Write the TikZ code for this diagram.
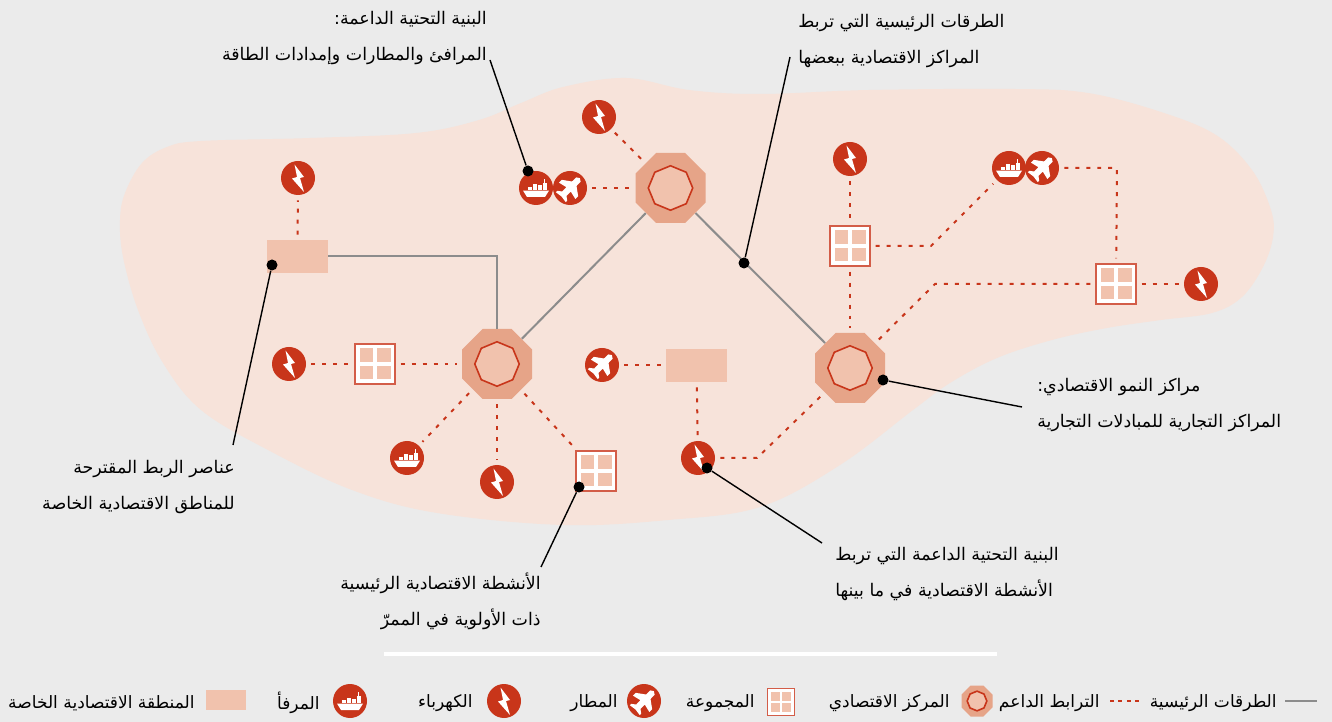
\documentclass[tikz,border=0pt]{standalone}
\usepackage{fontspec}
\usetikzlibrary{calc}
\usetikzlibrary{positioning}
\usetikzlibrary{shapes.geometric}
\newfontfamily\arabicfont[Script=Arabic]{DejaVu Sans}
\TeXXeTstate=1
\newcommand{\ar}[1]{\beginR #1\endR}
\definecolor{C0}{HTML}{EBEBEB}
\definecolor{C1}{HTML}{F7E3DA}
\definecolor{C2}{HTML}{E6A488}
\definecolor{C3}{HTML}{F1C2AD}
\definecolor{C4}{HTML}{C8351A}
\definecolor{C5}{HTML}{8C8C8C}
\def \unit {0.02cm}
\tikzset{
  labeltext/.style={inner sep=0pt,font=\arabicfont\fontsize{9.9}{20.4}\selectfont},
  calltext/.style={labeltext,align=#1},
  legendtext/.style={inner sep=0pt,anchor=east,font=\arabicfont\fontsize{9.7}{12}\selectfont},
  road/.style={C5,line width=2*\unit},
  link/.style={C4,line width=2*\unit,dash pattern=on 2.27pt off 3.97pt,shorten >=5*\unit,shorten <=5*\unit},
  leader/.style={black,line width=1.4*\unit},
  calldot/.style={circle,fill=black,inner sep=0pt,minimum size=11*\unit},
  hub/.style={regular polygon,regular polygon sides=8,fill=C2,inner sep=0pt,minimum size=#1*2.165*\unit},
  hubcore/.style={regular polygon,regular polygon sides=8,shape border rotate=22.5,fill=C3,draw=C4,line width=1.6*\unit,inner sep=0pt,minimum size=#1*1.27*\unit},
  sez/.style={rectangle,fill=C3,inner sep=0pt,minimum width=61*\unit,minimum height=33*\unit},
  cluster/.style={rectangle,fill=white,draw=C4!80,line width=1.3*\unit,inner sep=0pt,minimum size=#1*\unit,
    path picture={
      \begin{scope}[shift={(path picture bounding box.center)},x=#1/40*\unit,y=#1/40*\unit]
        \fill[C3] (-15.5,-15.5) rectangle (-1.7,-1.7);
        \fill[C3] (1.7,-15.5) rectangle (15.5,-1.7);
        \fill[C3] (-15.5,1.7) rectangle (-1.7,15.5);
        \fill[C3] (1.7,1.7) rectangle (15.5,15.5);
      \end{scope}}},
  bolt/.style={circle,fill=C4,inner sep=0pt,minimum size=34*\unit,
    path picture={
      \fill[white,shift={(path picture bounding box.center)}]
        (-3.5,-13.5)--(6,-1)--(2,0)--(6,14)--(-6,0.5)--(-1,-1)--cycle;}},
  plane/.style={circle,fill=C4,inner sep=0pt,minimum size=34*\unit,
    path picture={
      \fill[white,shift={(path picture bounding box.center)},x={(0.01414cm,0.01414cm)},y={(-0.01414cm,0.01414cm)}]
        (14,0)--(12,3)--(6,3.2)--(0,11.5)--(-4,11.5)--(-2,3.2)--(-8,3)--(-11,7)--(-13,7)--(-12,0)
        --(-13,-7)--(-11,-7)--(-8,-3)--(-2,-3.2)--(-4,-11.5)--(0,-11.5)--(6,-3.2)--(12,-3)--cycle;}},
  ship/.style={circle,fill=C4,inner sep=0pt,minimum size=34*\unit,
    path picture={
      \begin{scope}[shift={(path picture bounding box.center)}]
        \fill[white] (-13,2.6)--(13,2.6)--(9,9)--(-9,9)--cycle;
        \fill[white] (-8.5,-1) rectangle (-4.5,1.8);
        \fill[white] (-3.5,-3.5) rectangle (0.5,1.8);
        \fill[white] (1.5,-2.5) rectangle (5.5,1.8);
        \fill[white] (6.5,-5) rectangle (10.5,1.8);
        \fill[white] (8,-9) rectangle (9,-5);
      \end{scope}}}
}
\begin{document}
\begin{tikzpicture}[x=\unit,y=-\unit]
\fill[C0] (0,0) rectangle (1332,722);
\useasboundingbox (0,0) rectangle (1332,722);
\fill[C1] plot[smooth cycle,tension=0.6] coordinates {
  (120,220) (125,193) (142,163) (167,147) (201,141) (310,138) (416,133) (479,120) (521,103) (563,87)
  (626,78) (689,90) (760,94) (869,90) (1015,89) (1088,93) (1161,112) (1216,135) (1252,170) (1271,210)
  (1273,237) (1263,267) (1242,297) (1212,313) (1161,320) (1107,328) (1052,340) (997,358) (950,383) (913,410)
  (840,465) (760,507) (668,520) (563,525) (437,513) (352,490) (268,450) (201,410) (163,363) (138,310) (123,257)};

\node[hub=35] (hubTop) at (670.5,188) {};
\node[hub=35] (hubLeft) at (497,364) {};
\node[hub=35] (hubRight) at (850,368) {};
\node[hubcore=35] (coreTop) at (hubTop) {};
\node[hubcore=35] (coreLeft) at (hubLeft) {};
\node[hubcore=35] (coreRight) at (hubRight) {};

\node[sez] (sezLeft) at (297.5,256.5) {};
\node[sez] (sezMid) at (696.5,365.5) {};

\node[cluster=40] (clusterA) at (850,246) {};
\node[cluster=40] (clusterB) at (1116,284) {};
\node[cluster=40] (clusterC) at (375,364) {};
\node[cluster=40] (clusterD) at (596,471) {};

\node[bolt] (boltA) at (599,117) {};
\node[bolt] (boltB) at (850,159) {};
\node[bolt] (boltC) at (298,178) {};
\node[bolt] (boltD) at (1201,284) {};
\node[bolt] (boltE) at (289,364) {};
\node[bolt] (boltF) at (497,482) {};
\node[bolt] (boltG) at (698,458) {};
\node[ship] (shipA) at (536,188) {};
\node[ship] (shipB) at (1009,168) {};
\node[ship] (shipC) at (407,458) {};
\node[plane] (planeA) at (570,188) {};
\node[plane] (planeB) at (1042,168) {};
\node[plane] (planeC) at (602,365) {};

\draw[road] (sezLeft.east) -| (hubLeft.north);
\draw[road] (hubLeft) -- (hubTop);
\draw[road] (hubTop) -- (hubRight);

\coordinate (bendA) at (931,246);
\coordinate (bendB) at (1117,168);
\coordinate (bendC) at (935,284);
\coordinate (bendD) at (757,458);
\coordinate (stubMid) at (sezMid.west |- planeC);
\draw[link] (boltA) -- (hubTop);
\draw[link] (planeA) -- (hubTop);
\draw[link] (boltB) -- (clusterA);
\draw[link] (clusterA) -- (hubRight);
\draw[link] (clusterA) -- (bendA) -- (shipB);
\draw[link] (planeB) -- (bendB) -- (clusterB);
\draw[link] (clusterB) -- (boltD);
\draw[link] (clusterB) -- (bendC) -- (hubRight);
\draw[link] (sezLeft) -- (boltC);
\draw[link] (boltE) -- (clusterC);
\draw[link] (clusterC) -- (hubLeft);
\draw[link] (hubLeft) -- (shipC);
\draw[link] (hubLeft) -- (boltF);
\draw[link] (hubLeft) -- (clusterD);
\draw[link] (planeC) -- (stubMid);
\draw[link] (sezMid) -- (boltG);
\draw[link] (boltG) -- (bendD) -- (hubRight);

\node[calldot] (dotA) at (528,171) {};
\node[calldot] (dotB) at (744,263) {};
\node[calldot] (dotC) at (883,380) {};
\node[calldot] (dotD) at (707,468) {};
\node[calldot] (dotE) at (579,487) {};
\node[calldot] (dotF) at (272,265) {};
\coordinate (endA) at (490,60);
\coordinate (endB) at (790,57);
\coordinate (endC) at (1022,407);
\coordinate (endD) at (822,543);
\coordinate (endE) at (541,567);
\coordinate (endF) at (233,445);
\draw[leader] (dotA) -- (endA);
\draw[leader] (dotB) -- (endB);
\draw[leader] (dotC) -- (endC);
\draw[leader] (dotD) -- (endD);
\draw[leader] (dotE) -- (endE);
\draw[leader] (dotF) -- (endF);

\node[calltext=right,anchor=north east] (textA) at (487,11) {\ar{البنية التحتية الداعمة:}\\\ar{المرافئ والمطارات وإمدادات الطاقة}};
\node[calltext=left,anchor=north west] (textB) at (798,14) {\ar{الطرقات الرئيسية التي تربط}\\\ar{المراكز الاقتصادية ببعضها}};
\node[calltext=left,anchor=north west] (textC) at (1037,378) {\ar{مراكز النمو الاقتصادي:}\\\ar{المراكز التجارية للمبادلات التجارية}};
\node[calltext=left,anchor=north west] (textD) at (835,547) {\ar{البنية التحتية الداعمة التي تربط}\\\ar{الأنشطة الاقتصادية في ما بينها}};
\node[calltext=right,anchor=north east] (textE) at (541,573) {\ar{الأنشطة الاقتصادية الرئيسية}\\\ar{ذات الأولوية في الممرّ}};
\node[calltext=right,anchor=north east] (textF) at (235,460) {\ar{عناصر الربط المقترحة}\\\ar{للمناطق الاقتصادية الخاصة}};

\coordinate (ruleA) at (384,654);
\coordinate (ruleB) at (997,654);
\draw[white,line width=4*\unit] (ruleA) -- (ruleB);

\coordinate (keyRoadA) at (1285,701);
\coordinate (keyRoadB) at (1317,701);
\draw[road] (keyRoadA) -- (keyRoadB);
\node[legendtext] (keyRoad) at (1277,703) {\ar{الطرقات الرئيسية}};
\coordinate (keyLinkA) at (1110,701);
\coordinate (keyLinkB) at (1141,701);
\draw[link,shorten >=0pt,shorten <=0pt,dash pattern=on 2.27pt off 2.5pt] (keyLinkA) -- (keyLinkB);
\node[legendtext] (keyLink) at (1100,703) {\ar{الترابط الداعم}};
\node[hub=15.5] (keyHub) at (977,701) {};
\node[hubcore=15.5] (keyCore) at (keyHub) {};
\node[legendtext] (keyHubText) at (950,703) {\ar{المركز الاقتصادي}};
\node[cluster=27] (keyCluster) at (781,702) {};
\node[legendtext] (keyClusterText) at (755,703) {\ar{المجموعة}};
\node[plane] (keyPlane) at (644,701) {};
\node[legendtext] (keyPlaneText) at (618,703) {\ar{المطار}};
\node[bolt] (keyBolt) at (504,701) {};
\node[legendtext] (keyBoltText) at (473,703) {\ar{الكهرباء}};
\node[ship] (keyShip) at (350,701) {};
\node[legendtext] (keyShipText) at (320,703) {\ar{المرفأ}};
\node[sez,minimum width=40*\unit,minimum height=20*\unit] (keySez) at (226,700) {};
\node[legendtext] (keySezText) at (195,703) {\ar{المنطقة الاقتصادية الخاصة}};
\end{tikzpicture}
\end{document}
